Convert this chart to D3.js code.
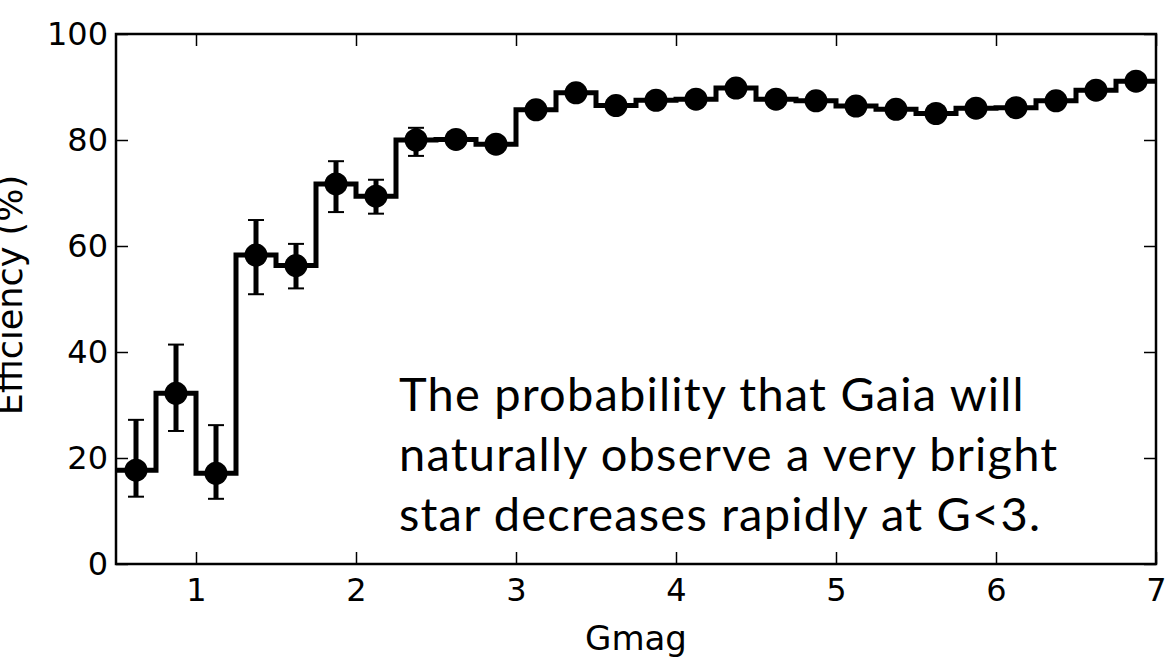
<!DOCTYPE html>
<html>
<head>
<meta charset="utf-8">
<script src="https://cdn.jsdelivr.net/npm/d3@7"></script>
<style>
  body { margin: 0; background: #fff; }
  svg { display: block; }
</style>
</head>
<body>
<svg id="chart"></svg>
<script>
// bin centres (Gmag), bin width 0.25
const gmag = [0.625, 0.875, 1.125, 1.375, 1.625, 1.875, 2.125, 2.375, 2.625, 2.875,
  3.125, 3.375, 3.625, 3.875, 4.125, 4.375, 4.625, 4.875, 5.125, 5.375,
  5.625, 5.875, 6.125, 6.375, 6.625, 6.875];
const binWidth = 0.25;
// efficiency (%)
const efficiency = [17.7, 32.2, 17.1, 58.3, 56.3, 71.7, 69.4, 80.0, 80.1, 79.2,
  85.7, 88.9, 86.5, 87.5, 87.7, 89.8, 87.7, 87.4, 86.4, 85.8,
  85.0, 86.0, 86.1, 87.4, 89.4, 91.1];
// error bar ends
const errLow = [12.7, 25.1, 12.3, 50.9, 52.0, 66.4, 66.1, 77.0, 79.0, 78.2,
  84.9, 88.2, 85.8, 86.8, 87.0, 89.2, 87.0, 86.7, 85.7, 85.1,
  84.3, 85.3, 85.4, 86.7, 88.7, 90.4];
const errHigh = [27.2, 41.4, 26.2, 64.9, 60.4, 76.0, 72.5, 82.3, 81.2, 80.2,
  86.5, 89.6, 87.2, 88.2, 88.4, 90.4, 88.4, 88.1, 87.1, 86.5,
  85.7, 86.7, 86.8, 88.1, 90.1, 91.8];
const xTicks = [1, 2, 3, 4, 5, 6, 7];
const yTicks = [0, 20, 40, 60, 80, 100];
const note = ["The probability that Gaia will",
  "naturally observe a very bright",
  "star decreases rapidly at G<3."];

const width = 1171;
const height = 664;
const margin = { top: 34, right: 15, bottom: 100, left: 116 };

const svg = d3.select('#chart')
  .attr('width', width)
  .attr('height', height);

const x = d3.scaleLinear()
  .domain([0.5, 7])
  .range([margin.left, width - margin.right]);

const y = d3.scaleLinear()
  .domain([0, 100])
  .range([height - margin.bottom, margin.top]);

const data = gmag.map((g, i) => ({ g, v: efficiency[i], lo: errLow[i], hi: errHigh[i] }));

// step outline of the histogram
const steps = data.map(d => [d.g - binWidth / 2, d.v]);
steps.push([gmag[gmag.length - 1] + binWidth / 2, efficiency[efficiency.length - 1]]);

const line = d3.line()
  .x(d => x(d[0]))
  .y(d => y(d[1]))
  .curve(d3.curveStepAfter);

svg.append('path')
  .datum(steps)
  .attr('d', line)
  .attr('fill', 'none')
  .attr('stroke', '#000')
  .attr('stroke-width', 5);

// error bars
const err = svg.append('g').attr('stroke', '#000');
err.selectAll('line.bar')
  .data(data)
  .join('line')
  .attr('class', 'bar')
  .attr('x1', d => x(d.g)).attr('x2', d => x(d.g))
  .attr('y1', d => y(d.lo)).attr('y2', d => y(d.hi))
  .attr('stroke-width', 5);
['lo', 'hi'].forEach(k => {
  err.selectAll('line.cap-' + k)
    .data(data)
    .join('line')
    .attr('class', 'cap-' + k)
    .attr('x1', d => x(d.g) - 8).attr('x2', d => x(d.g) + 8)
    .attr('y1', d => y(d[k])).attr('y2', d => y(d[k]))
    .attr('stroke-width', 2);
});

// points
svg.append('g')
  .selectAll('circle')
  .data(data)
  .join('circle')
  .attr('cx', d => x(d.g))
  .attr('cy', d => y(d.v))
  .attr('r', 11.5)
  .attr('fill', '#000');

// axes
const font = 'DejaVu Sans, sans-serif';
const styleAxis = (g, labels) => {
  g.select('.domain').remove();
  g.selectAll('.tick line').attr('stroke', '#000').attr('stroke-width', 1.5);
  g.selectAll('.tick text')
    .attr('fill', '#000')
    .attr('font-family', font)
    .attr('font-size', 32);
  if (!labels) g.selectAll('.tick text').remove();
};

svg.append('g')
  .attr('transform', `translate(0,${y(0)})`)
  .call(d3.axisBottom(x).tickValues(xTicks).tickFormat(d3.format('d')).tickSizeInner(-12).tickSizeOuter(0).tickPadding(14))
  .call(g => styleAxis(g, true));

svg.append('g')
  .attr('transform', `translate(0,${y(100)})`)
  .call(d3.axisTop(x).tickValues(xTicks).tickSizeInner(-12).tickSizeOuter(0))
  .call(g => styleAxis(g, false));

svg.append('g')
  .attr('transform', `translate(${x(0.5)},0)`)
  .call(d3.axisLeft(y).tickValues(yTicks).tickFormat(d3.format('d')).tickSizeInner(-12).tickSizeOuter(0).tickPadding(8))
  .call(g => styleAxis(g, true));

svg.append('g')
  .attr('transform', `translate(${x(7)},0)`)
  .call(d3.axisRight(y).tickValues(yTicks).tickSizeInner(-12).tickSizeOuter(0))
  .call(g => styleAxis(g, false));

// frame
svg.append('rect')
  .attr('x', x(0.5)).attr('y', y(100))
  .attr('width', x(7) - x(0.5)).attr('height', y(0) - y(100))
  .attr('fill', 'none')
  .attr('stroke', '#000')
  .attr('stroke-width', 2.5);

// axis labels
svg.append('text')
  .attr('x', (x(0.5) + x(7)) / 2)
  .attr('y', 650)
  .attr('text-anchor', 'middle')
  .attr('font-family', font)
  .attr('font-size', 34)
  .text('Gmag');

svg.append('text')
  .attr('transform', `translate(22,295) rotate(-90)`)
  .attr('text-anchor', 'middle')
  .attr('font-family', font)
  .attr('font-size', 35)
  .text('Efficiency (%)');

// annotation
svg.append('g')
  .selectAll('text')
  .data(note)
  .join('text')
  .attr('x', 399)
  .attr('y', (d, i) => 411 + i * 60)
  .attr('font-family', 'Lato, sans-serif')
  .attr('font-size', 47)
  .attr('letter-spacing', 1.2)
  .attr('fill', '#000')
  .text(d => d);
</script>
</body>
</html>
